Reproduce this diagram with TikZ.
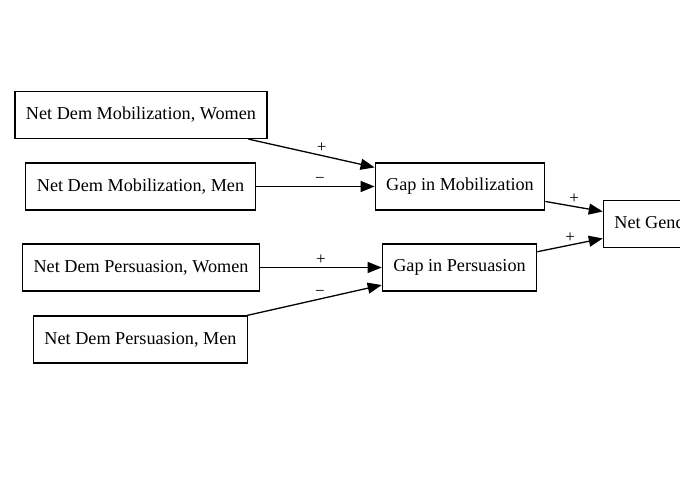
\documentclass[tikz,border=0pt]{standalone}
\usepackage{fontspec}
\setmainfont{Liberation Serif}
\usepackage{tikz}
\usetikzlibrary{arrows.meta}
\tikzset{factor/.style={rectangle, draw=black, line width=1.2pt, inner xsep=11pt, minimum height=47pt, align=center, font=\fontsize{18.2}{22}\selectfont}, arrow/.style={-{Triangle[length=14pt,width=11pt]}, line width=1.3pt, draw=black}, sign/.style={midway, above, inner sep=2pt, font=\fontsize{17}{19}\selectfont}}

\begin{document}
\begin{tikzpicture}[x=1pt,y=-1pt]
\useasboundingbox (0,0) rectangle (680,500);
\node[factor] (mobw) at (141,115) {Net Dem Mobilization, Women};
\node[factor] (mobm) at (140.5,186.5) {Net Dem Mobilization, Men};
\node[factor] (perw) at (141,267.5) {Net Dem Persuasion, Women};
\node[factor] (perm) at (140.5,339.5) {Net Dem Persuasion, Men};
\node[factor] (gapmob) at (460,186.5) {Gap in Mobilization};
\node[factor] (gapper) at (459.5,267.5) {Gap in Persuasion};
\node[factor] (netgap) at (674,224) {Net Gender Gap};
\draw[arrow] (mobw) -- (gapmob) node[sign, pos=0.58] {+};
\draw[arrow] (mobm) -- (gapmob) node[sign, pos=0.54] {−};
\draw[arrow] (perw) -- (gapper) node[sign] {+};
\draw[arrow] (perm) -- (gapper) node[sign, pos=0.54] {−};
\draw[arrow] (gapmob) -- (netgap) node[sign] {+};
\draw[arrow] (gapper) -- (netgap) node[sign] {+};
\end{tikzpicture}
\end{document}
